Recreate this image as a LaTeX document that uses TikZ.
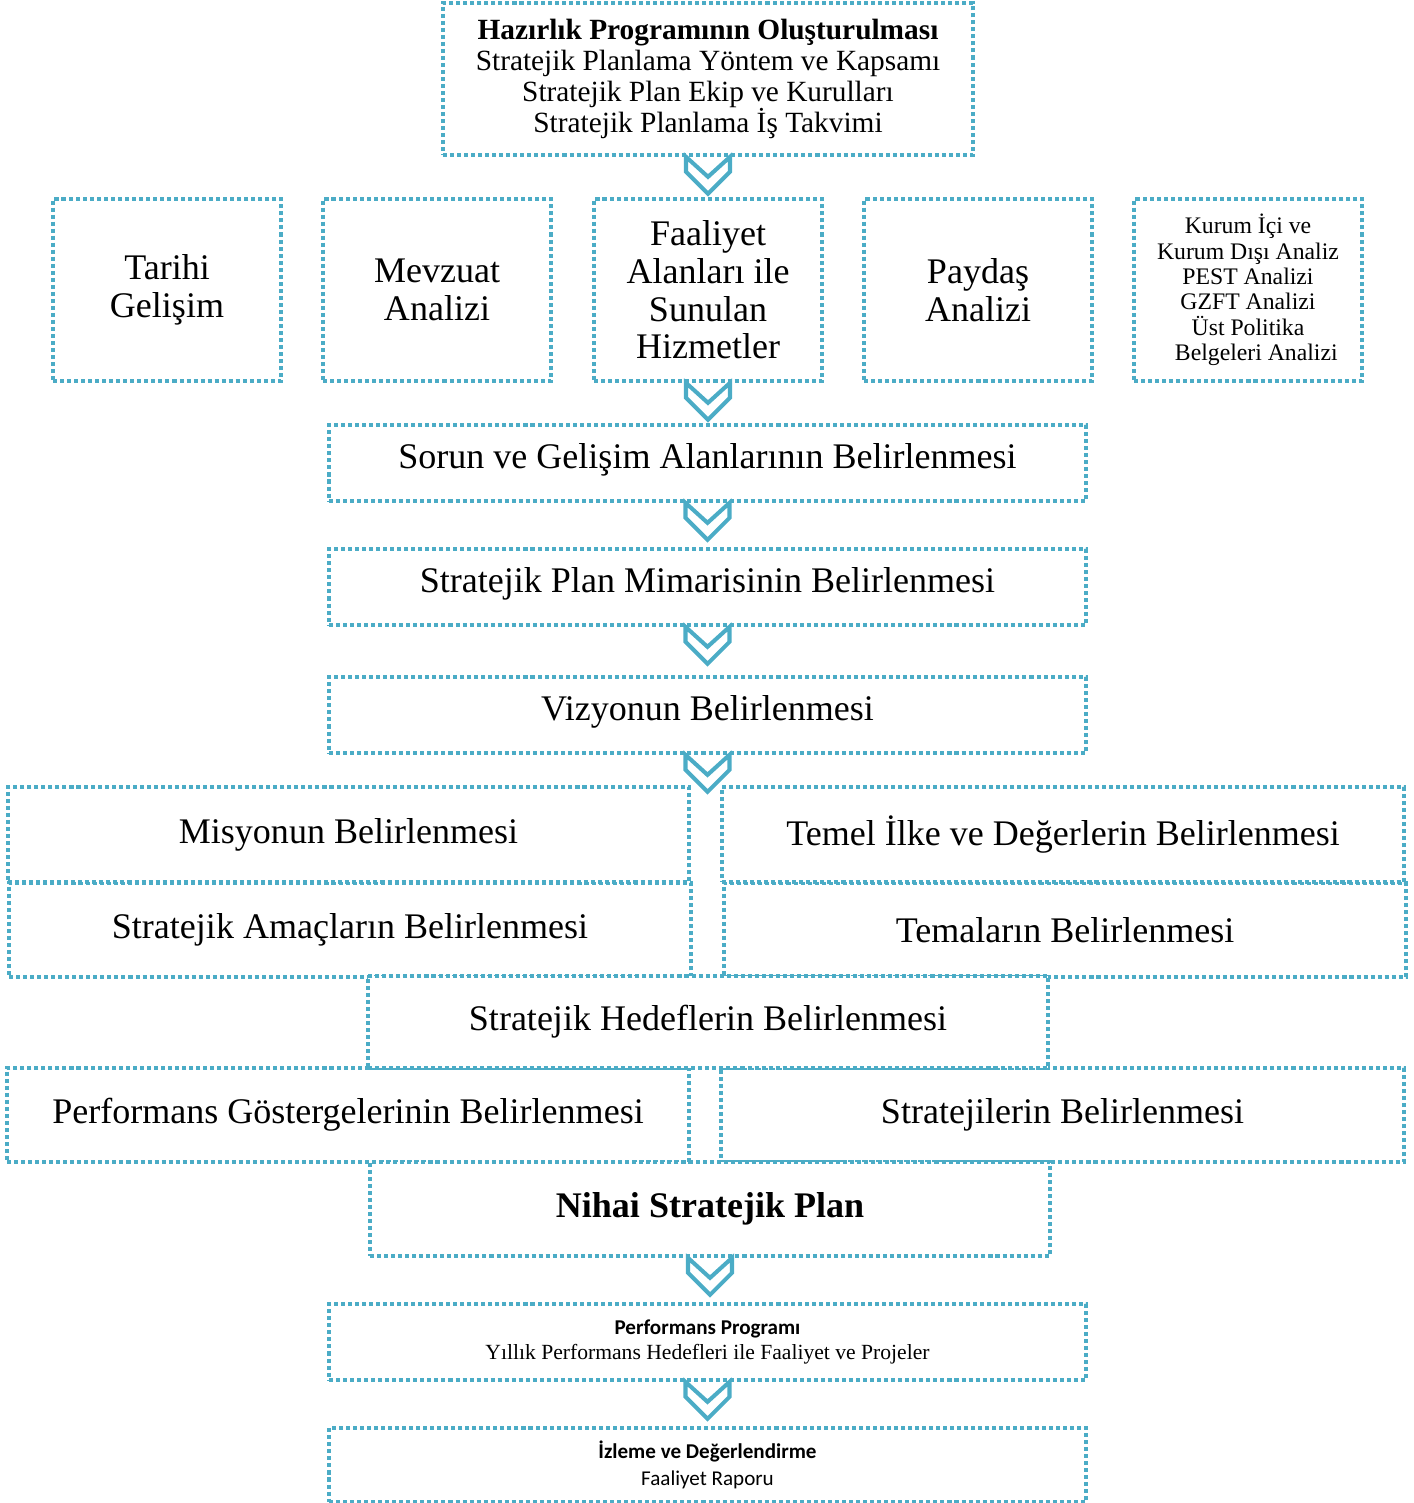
\documentclass[tikz,border=0pt]{standalone}
\usepackage{fontspec}
\setmainfont{Liberation Serif}
\newfontfamily\calibri{Carlito}
\usetikzlibrary{positioning}
\definecolor{tealc}{RGB}{75,172,198}

\begin{document}
\begin{tikzpicture}[x=0.02cm, y=-0.02cm,
  box/.style={draw=tealc, line width=2.1pt, dash pattern=on 2.3pt off 1.7pt,
    inner sep=0pt, align=center, fill=white},
  wh/.style 2 args={minimum width=#1*0.02cm, minimum height=#2*0.02cm},
  big/.style={font=\fontsize{20.5}{21.5}\selectfont},
  lift/.style={text depth=8.5pt},
  chev/.pic={\draw[tealc, line width=2.3pt, line join=miter]
    (-22,0) -- (-22,15) -- (0,37) -- (22,15) -- (22,0) -- (0,20) -- cycle;}]
  \useasboundingbox (0,0) rectangle (1413,1503);

  % preparation
  \node[box, wh={530}{152}, font=\fontsize{16.7}{17.6}\selectfont] (hazirlik) at (708,79)
    {\textbf{Hazırlık Programının Oluşturulması}\\Stratejik Planlama Yöntem ve Kapsamı\\
     Stratejik Plan Ekip ve Kurulları\\Stratejik Planlama İş Takvimi};

  % analysis row
  \node[box, wh={228}{182}, big] (tarihi) at (167,290) {Tarihi\\Gelişim};
  \node[box, wh={228}{182}, big] (mevzuat) at (437,290) {Mevzuat\\Analizi};
  \node[box, wh={228}{182}, big] (faaliyet) at (708,290) {Faaliyet\\Alanları ile\\Sunulan\\Hizmetler};
  \node[box, wh={228}{182}, big] (paydas) at (978,290) {Paydaş\\Analizi};
  \node[box, wh={228}{182}, font=\fontsize{13.5}{14.5}\selectfont] (kurum) at (1248,290)
    {Kurum İçi ve\\Kurum Dışı Analiz\\PEST Analizi\\GZFT Analizi\\Üst Politika\\\hspace*{0.7em}Belgeleri Analizi};

  % main line
  \node[box, wh={757}{76}, big, lift] (sorun) at (707.5,463) {Sorun ve Gelişim Alanlarının Belirlenmesi};
  \node[box, wh={757}{76}, big, lift] (mimari) at (707.5,587) {Stratejik Plan Mimarisinin Belirlenmesi};
  \node[box, wh={757}{76}, big, lift] (vizyon) at (707.5,715) {Vizyonun Belirlenmesi};

  \node[box, wh={682}{94}, big] (amac) at (350,930) {Stratejik Amaçların Belirlenmesi};
  \node[box, wh={682}{94}, big] (tema) at (1065,930) {Temaların Belirlenmesi};
  \node[box, wh={681}{95}, big] (misyon) at (348.5,834.5) {Misyonun Belirlenmesi};
  \node[box, wh={682}{95}, big] (temel) at (1063,834.5) {Temel İlke ve Değerlerin Belirlenmesi};

  \node[box, wh={682}{94}, big] (gosterge) at (348,1115) {Performans Göstergelerinin Belirlenmesi};
  \node[box, wh={683}{94}, big] (strateji) at (1062.5,1115) {Stratejilerin Belirlenmesi};
  \node[box, wh={680}{92}, big] (hedef) at (708,1022) {Stratejik Hedeflerin Belirlenmesi};
  \node[box, wh={680}{94}, font=\fontsize{20.5}{21.5}\selectfont\bfseries] (nihai) at (710,1209) {Nihai Stratejik Plan};

  \node[box, wh={757}{76}, font=\fontsize{12.3}{14.4}\selectfont] (program) at (707.5,1342)
    {{\calibri\bfseries\fontsize{12}{14.4}\selectfont Performans Programı}\\
     Yıllık Performans Hedefleri ile Faaliyet ve Projeler};
  \node[box, wh={757}{74}, font=\calibri\fontsize{12}{15.3}\selectfont] (izleme) at (707.5,1465)
    {\textbf{İzleme ve Değerlendirme}\\Faaliyet Raporu};

  % chevrons
  \path (hazirlik.south) pic {chev};
  \path (faaliyet.south) pic {chev};
  \path (sorun.south) pic {chev};
  \path (mimari.south) pic {chev};
  \path (vizyon.south) pic {chev};
  \path (nihai.south) pic {chev};
  \path (program.south) pic {chev};
\end{tikzpicture}
\end{document}
